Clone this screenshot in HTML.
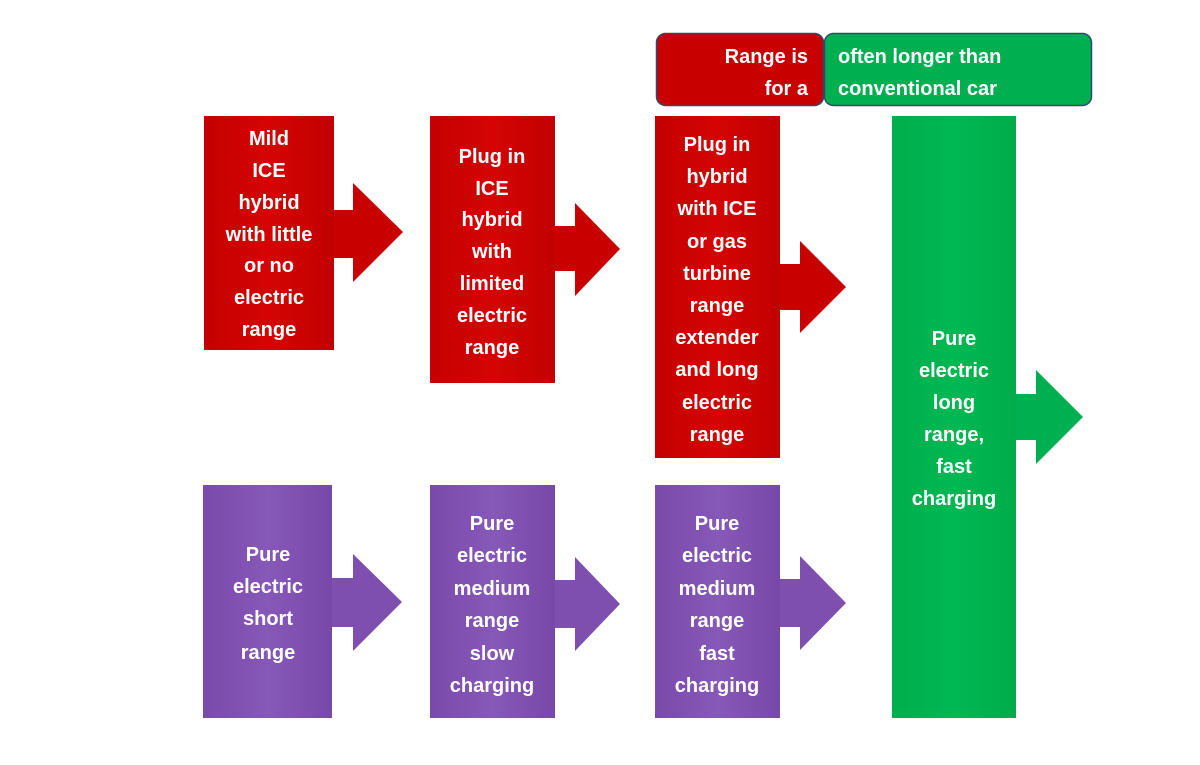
<!DOCTYPE html>
<html><head><style>
html,body{margin:0;padding:0;background:#fff;}
svg{display:block}
text{font-family:"Liberation Sans",sans-serif;font-weight:bold;font-size:20px;fill:#fff;}
</style></head><body>
<svg width="1200" height="765" viewBox="0 0 1200 765">
<defs>
<linearGradient id="r" x1="0" y1="0" x2="1" y2="0"><stop offset="0" stop-color="#c40000"/><stop offset="0.5" stop-color="#d40404"/><stop offset="1" stop-color="#c20000"/></linearGradient>
<linearGradient id="p" x1="0" y1="0" x2="1" y2="0"><stop offset="0" stop-color="#7a4aab"/><stop offset="0.5" stop-color="#8658b8"/><stop offset="1" stop-color="#7848a8"/></linearGradient>
<linearGradient id="g" x1="0" y1="0" x2="1" y2="0"><stop offset="0" stop-color="#00ae4c"/><stop offset="0.5" stop-color="#00b853"/><stop offset="1" stop-color="#00ac4a"/></linearGradient>
</defs>
<!-- red row arrows -->
<polygon fill="#c80000" points="330,210 353,210 353,183 403,232 353,282 353,258 330,258"/>
<polygon fill="#c80000" points="552,226 575,226 575,203 620,249 575,296 575,271 552,271"/>
<polygon fill="#c80000" points="777,264 800,264 800,241 846,287 800,333 800,310 777,310"/>
<polygon fill="#00b050" points="1013,394 1036,394 1036,370 1083,417 1036,464 1036,440 1013,440"/>
<polygon fill="#7f4fb0" points="329,578 353,578 353,554 402,602 353,651 353,627 329,627"/>
<polygon fill="#7f4fb0" points="552,580 575,580 575,557 620,604 575,651 575,628 552,628"/>
<polygon fill="#7f4fb0" points="777,579 800,579 800,556 846,603 800,650 800,627 777,627"/>
<!-- boxes -->
<rect x="204" y="116" width="130" height="234" fill="url(#r)"/>
<rect x="430" y="116" width="125" height="267" fill="url(#r)"/>
<rect x="655" y="116" width="125" height="342" fill="url(#r)"/>
<rect x="892" y="116" width="124" height="602" fill="url(#g)"/>
<rect x="203" y="485" width="129" height="233" fill="url(#p)"/>
<rect x="430" y="485" width="125" height="233" fill="url(#p)"/>
<rect x="655" y="485" width="125" height="233" fill="url(#p)"/>
<!-- top boxes -->
<rect x="656.5" y="33.5" width="167" height="72" rx="9" fill="#c80000" stroke="#2f4a6e" stroke-width="1.5"/>
<rect x="824.5" y="33.5" width="267" height="72" rx="9" fill="#00b050" stroke="#2f4a6e" stroke-width="1.5"/>
<g text-anchor="end"><text x="808" y="63">Range is</text><text x="808" y="95">for a</text></g>
<text x="838" y="63">often longer than</text><text x="838" y="95">conventional car</text>
<g text-anchor="middle">
<text x="269" y="145">Mild</text><text x="269" y="177">ICE</text><text x="269" y="209">hybrid</text><text x="269" y="241">with little</text><text x="269" y="272">or no</text><text x="269" y="304">electric</text><text x="269" y="336">range</text>
<text x="492" y="163">Plug in</text><text x="492" y="195">ICE</text><text x="492" y="226">hybrid</text><text x="492" y="258">with</text><text x="492" y="290">limited</text><text x="492" y="322">electric</text><text x="492" y="354">range</text>
<text x="717" y="151">Plug in</text><text x="717" y="183">hybrid</text><text x="717" y="215">with  ICE</text><text x="717" y="248">or gas</text><text x="717" y="280">turbine</text><text x="717" y="312">range</text><text x="717" y="344">extender</text><text x="717" y="376">and long</text><text x="717" y="409">electric</text><text x="717" y="441">range</text>
<text x="954" y="345">Pure</text><text x="954" y="377">electric</text><text x="954" y="409">long</text><text x="954" y="441">range,</text><text x="954" y="473">fast</text><text x="954" y="505">charging</text>
<text x="268" y="561">Pure</text><text x="268" y="593">electric</text><text x="268" y="625">short</text><text x="268" y="659">range</text>
<text x="492" y="530">Pure</text><text x="492" y="562">electric</text><text x="492" y="595">medium</text><text x="492" y="627">range</text><text x="492" y="660">slow</text><text x="492" y="692">charging</text>
<text x="717" y="530">Pure</text><text x="717" y="562">electric</text><text x="717" y="595">medium</text><text x="717" y="627">range</text><text x="717" y="660">fast</text><text x="717" y="692">charging</text>
</g>
</svg>
</body></html>
